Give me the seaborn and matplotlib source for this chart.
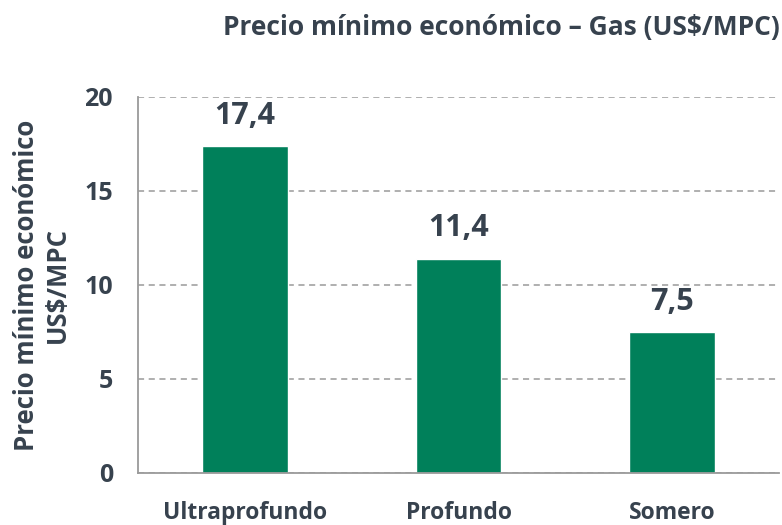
import seaborn as sns
import matplotlib.pyplot as plt

categorias = ['Ultraprofundo', 'Profundo', 'Somero']
precios = [17.4, 11.4, 7.5]
etiquetas = ['17,4', '11,4', '7,5']
yticks = [0, 5, 10, 15, 20]

verde = '#00805A'
texto = '#37424E'
gris = '#9A9A9A'

sns.set_style('white')
plt.rcParams['font.family'] = ['Open Sans', 'DejaVu Sans']
plt.rcParams['font.weight'] = 'bold'

fig = plt.figure(figsize=(7.82, 5.25), dpi=100)
ax = fig.add_axes([138 / 782, 52 / 525, 641 / 782, 376 / 525])

sns.barplot(x=categorias, y=precios, color=verde, width=0.4, saturation=1, ax=ax)

ax.set_xlim(-0.5, 2.5)
ax.set_ylim(0, 20)
ax.set_yticks(yticks)
ax.set_yticklabels([str(t) for t in yticks], fontsize=18, fontweight='bold', color=texto)
ax.yaxis.grid(True, linestyle=(0, (4, 3)), color=gris, linewidth=1.1)
ax.set_axisbelow(True)

ax.set_xticks([0, 1, 2])
ax.set_xticklabels(categorias, fontsize=16.5, fontweight='bold', color=texto)
ax.set_xticks([-0.5, 0.5, 1.5, 2.5], minor=True)
ax.tick_params(axis='x', which='major', length=0, pad=20)
ax.tick_params(axis='x', which='minor', length=7, color=gris, width=1.2, direction='out')
ax.tick_params(axis='y', length=7, color=gris, width=1.2, direction='out', pad=11)

for s in ['top', 'right']:
    ax.spines[s].set_visible(False)
for s in ['left', 'bottom']:
    ax.spines[s].set_color(gris)
    ax.spines[s].set_linewidth(1.3)

for i, (v, lab) in enumerate(zip(precios, etiquetas)):
    ax.annotate(lab, xy=(i, v), xytext=(0, 16), textcoords='offset points',
                ha='center', va='baseline', fontsize=22, fontweight='bold', color=texto)

ax.set_ylabel('Precio mínimo económico\nUS$/MPC', fontsize=18.5, fontweight='bold',
              color=texto, linespacing=1.2)
ax.yaxis.set_label_coords(-0.104, 0.5)

fig.text(780 / 782, 1 - 35 / 525, 'Precio mínimo económico – Gas (US$/MPC)',
         ha='right', va='baseline', fontsize=19, fontweight='bold', color=texto)

fig.savefig('out.png', dpi=100)
